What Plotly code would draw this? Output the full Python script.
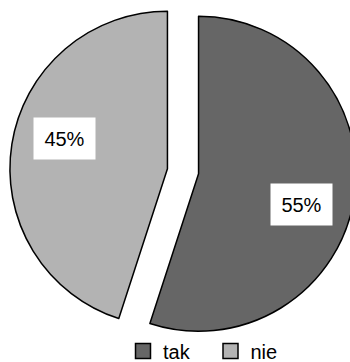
import math
import plotly.graph_objects as go

# ---- data ----
labels = ["tak", "nie"]
values = [55, 45]
label_text = ["55%", "45%"]
colors = ["#666666", "#b3b3b3"]

# ---- style / geometry ----
W, H = 360, 362          # figure is a bit wider than the window; right edge gets cropped
base_cx, base_cy = 183.0, 171.25
R = 157.5
explode = 15.75           # px each slice is pulled out along its bisector
label_frac = 0.68
label_rot = 7.5
FONT = "Liberation Sans, Arial, sans-serif"

total = sum(values)
fig = go.Figure()
annotations = []
start = 0.0
for i, (lab, v) in enumerate(zip(labels, values)):
    span = 360.0 * v / total
    mid = start + span / 2
    a = math.radians(mid)
    cx = base_cx + explode * math.sin(a)
    cy = base_cy - explode * math.cos(a)
    mcolors = ["rgba(0,0,0,0)"] * len(values)
    lcolors = ["rgba(0,0,0,0)"] * len(values)
    mcolors[i] = colors[i]
    lcolors[i] = "black"
    fig.add_trace(go.Pie(
        labels=labels, values=values, sort=False, direction="clockwise", rotation=0,
        marker=dict(colors=mcolors, line=dict(color=lcolors, width=1.5)),
        textinfo="none", hoverinfo="skip", showlegend=False,
        domain=dict(x=[(cx - R) / W, (cx + R) / W],
                    y=[1 - (cy + R) / H, 1 - (cy - R) / H]),
    ))
    la = math.radians(mid + label_rot)
    lx = cx + label_frac * R * math.sin(la)
    ly = cy - label_frac * R * math.cos(la)
    annotations.append(dict(
        x=lx / W, y=1 - ly / H, xref="paper", yref="paper",
        text=label_text[i], showarrow=False,
        font=dict(family=FONT, size=20, color="black"),
        bgcolor="white", width=61, height=41, borderpad=0,
        xanchor="center", yanchor="middle",
    ))
    start += span

# legend entries
for lab, c in zip(labels, colors):
    fig.add_trace(go.Scatter(
        x=[None], y=[None], mode="markers", name=lab,
        marker=dict(symbol="square", size=15, color=c, line=dict(color="black", width=1.5)),
    ))

fig.update_layout(
    width=W, height=H, margin=dict(l=0, r=0, t=0, b=0, autoexpand=False),
    paper_bgcolor="white", plot_bgcolor="white",
    xaxis=dict(visible=False), yaxis=dict(visible=False),
    annotations=annotations,
    showlegend=True,
    legend=dict(orientation="h", x=123 / W, xanchor="left", y=1 - 331.5 / H, yanchor="top",
                entrywidth=42.5, entrywidthmode="pixels",
                font=dict(family=FONT, size=20, color="black"),
                bgcolor="rgba(0,0,0,0)", itemclick=False, itemdoubleclick=False),
    font=dict(family=FONT),
)

fig.write_html("out.html",
               post_script="document.documentElement.style.overflow='hidden';document.body.style.overflow='hidden';")
